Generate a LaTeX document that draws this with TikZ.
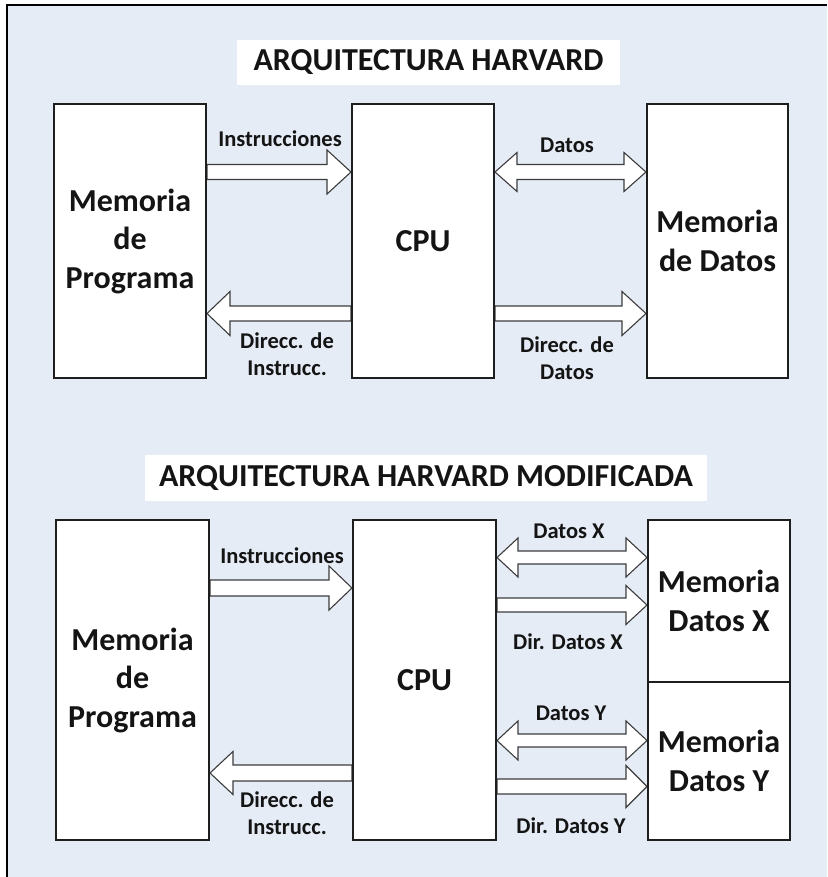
\documentclass[tikz,border=0pt]{standalone}
\usepackage{fontspec}
\setmainfont{Carlito}
\usetikzlibrary{calc}

\definecolor{panel}{HTML}{E5ECF6}
\definecolor{boxline}{HTML}{1E1E1E}
\definecolor{busline}{HTML}{3C3C3C}
\definecolor{ink}{HTML}{141414}

\pgfdeclarelayer{bg}
\pgfdeclarelayer{bus}
\pgfsetlayers{bg,bus,main}

\tikzset{
  blockbox/.style={draw=boxline, line width=2pt, fill=white, align=center,
    inner sep=0pt, text=ink, font=\fontsize{32}{38.5}\selectfont\bfseries},
  titlebox/.style={fill=white, inner sep=0pt, text=ink,
    font=\fontsize{32}{38}\selectfont\bfseries},
  buslabel/.style={align=center, inner sep=0pt, text=ink,
    font=\fontsize{22.5}{27}\selectfont\bfseries},
  bus/.style={draw=busline, line width=1.1pt, fill=white, line join=miter},
}

% wide bus arrows: #1 tail/left tip, #2 tip/right tip,
% #3 half shaft width, #4 half head width, #5 head length
\newcommand\busright[5]{%
  \draw[bus] ($#1+(0,-#3)$) -- ($#2+(-#5,-#3)$) -- ($#2+(-#5,-#4)$) -- #2
    -- ($#2+(-#5,#4)$) -- ($#2+(-#5,#3)$) -- ($#1+(0,#3)$) -- cycle;}
\newcommand\busleft[5]{%
  \draw[bus] ($#1+(0,-#3)$) -- ($#2+(#5,-#3)$) -- ($#2+(#5,-#4)$) -- #2
    -- ($#2+(#5,#4)$) -- ($#2+(#5,#3)$) -- ($#1+(0,#3)$) -- cycle;}
\newcommand\busboth[5]{%
  \draw[bus] ($#1+(#5,-#3)$) -- ($#2+(-#5,-#3)$) -- ($#2+(-#5,-#4)$) -- #2
    -- ($#2+(-#5,#4)$) -- ($#2+(-#5,#3)$) -- ($#1+(#5,#3)$)
    -- ($#1+(#5,#4)$) -- #1 -- ($#1+(#5,-#4)$) -- cycle;}

\begin{document}
\begin{tikzpicture}[x=1pt, y=-1pt]
  \useasboundingbox (0,0) rectangle (827,877);

  % panel and its frame
  \begin{pgfonlayer}{bg}
    \fill[white] (0,0) rectangle (827,877);
    \fill[panel] (7,6) rectangle (827,877);
    \draw[black, line width=2pt] (6.5,877) -- (6.5,5) -- (827,5);
  \end{pgfonlayer}

  % ---------- Harvard ----------
  \node[titlebox, minimum width=383pt, minimum height=45pt] (t1) at (428.5,62.5)
    {ARQUITECTURA HARVARD};

  \node[blockbox, minimum width=152pt, minimum height=274pt] (pm1) at (130,241)
    {Memoria\\de\\Programa};
  \node[blockbox, minimum width=142pt, minimum height=274pt] (cpu1) at (423,241)
    {CPU};
  \node[blockbox, minimum width=141pt, minimum height=274pt] (md1) at (717.5,241)
    {Memoria\\de Datos};

  \coordinate (ya1) at (0,172);
  \coordinate (yb1) at (0,313.5);

  \begin{pgfonlayer}{bus}
    \busright{(pm1.east |- ya1)}{(cpu1.west |- ya1)}{7.5}{22}{24}
    \busleft{(cpu1.west |- yb1)}{(pm1.east |- yb1)}{7.5}{22}{23}
    \busboth{(cpu1.east |- ya1)}{(md1.west |- ya1)}{7.5}{19.5}{22}
    \busright{(cpu1.east |- yb1)}{(md1.west |- yb1)}{7.5}{22}{24}
  \end{pgfonlayer}

  \node[buslabel, anchor=base] (l1) at (280,147) {Instrucciones};
  \node[buslabel] (l2) at (287,354) {Direcc. de\\Instrucc.};
  \node[buslabel, anchor=base] (l3) at (567,153) {Datos};
  \node[buslabel] (l4) at (567,358) {Direcc. de\\Datos};

  % ---------- modified Harvard ----------
  \node[titlebox, minimum width=562pt, minimum height=46pt] (t2) at (426,478)
    {ARQUITECTURA HARVARD MODIFICADA};

  \node[blockbox, minimum width=153pt, minimum height=320pt] (pm2) at (132.5,680)
    {Memoria\\de\\Programa};
  \node[blockbox, minimum width=143pt, minimum height=320pt] (cpu2) at (424.5,680)
    {CPU};
  \node[blockbox, minimum width=142pt, minimum height=162pt] (mdx) at (719,601)
    {Memoria\\Datos X};
  \node[blockbox, minimum width=142pt, minimum height=158pt] (mdy) at (719,761)
    {Memoria\\Datos Y};

  \coordinate (ya2) at (0,588);
  \coordinate (yb2) at (0,773);
  \coordinate (yx1) at (0,557.5);
  \coordinate (yx2) at (0,605);
  \coordinate (yy1) at (0,740.5);
  \coordinate (yy2) at (0,786.5);

  \begin{pgfonlayer}{bus}
    \busright{(pm2.east |- ya2)}{(cpu2.west |- ya2)}{8}{22}{23}
    \busleft{(cpu2.west |- yb2)}{(pm2.east |- yb2)}{8}{21.5}{23}
    \busboth{(cpu2.east |- yx1)}{(mdx.west |- yx1)}{6.5}{19.5}{21}
    \busright{(cpu2.east |- yx2)}{(mdx.west |- yx2)}{7}{19.5}{21}
    \busboth{(cpu2.east |- yy1)}{(mdy.west |- yy1)}{6.5}{19.5}{21}
    \busright{(cpu2.east |- yy2)}{(mdy.west |- yy2)}{7.5}{21}{21}
  \end{pgfonlayer}

  \node[buslabel, anchor=base] (l5) at (282,563) {Instrucciones};
  \node[buslabel] (l6) at (287,813) {Direcc. de\\Instrucc.};
  \node[buslabel, anchor=base] (l7) at (569,538) {Datos X};
  \node[buslabel, anchor=base] (l8) at (568,649) {Dir. Datos X};
  \node[buslabel, anchor=base] (l9) at (571,720) {Datos Y};
  \node[buslabel, anchor=base] (l10) at (571,833) {Dir. Datos Y};
\end{tikzpicture}
\end{document}
